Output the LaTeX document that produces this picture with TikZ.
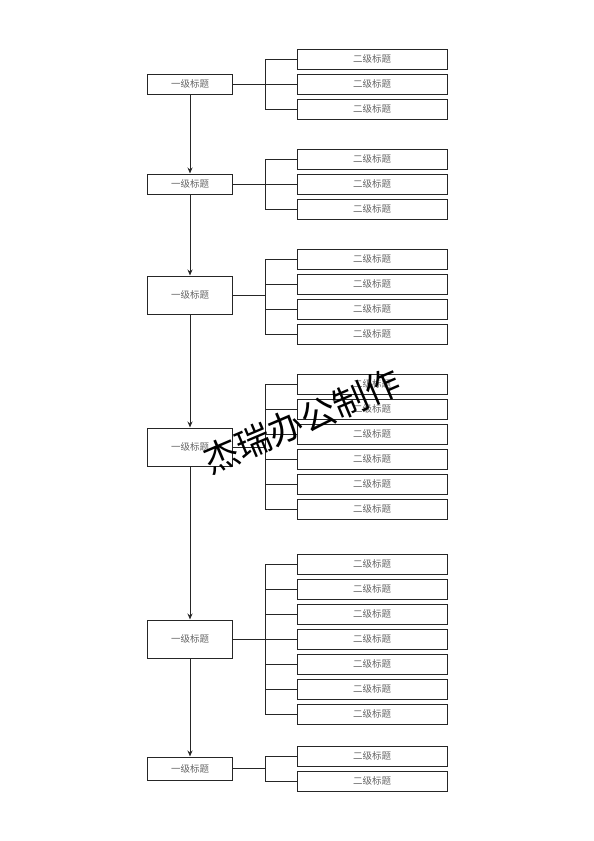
\documentclass[tikz,border=0pt]{standalone}
\usepackage{fontspec}
\newfontfamily\cjk{Noto Sans CJK SC}
\usetikzlibrary{arrows.meta}
\tikzset{
  boxbase/.style={draw=black!85, line width=1pt, inner sep=0pt, text=black!60, font=\cjk\fontsize{9.5}{9.5}\selectfont},
  lone/.style={boxbase, minimum width=85pt},
  ltwo/.style={boxbase, minimum width=150pt, minimum height=20pt},
  conn/.style={draw=black!85, line width=1pt},
  arr/.style={conn, -{Stealth[length=6pt,width=5pt]}},
  wmark/.style={font=\cjk\fontsize{35}{35}\selectfont, text=black, rotate=23}
}
\begin{document}
\begin{tikzpicture}[x=1pt,y=-1pt]
\useasboundingbox (0,0) rectangle (594,841);
% level one
\node[lone, minimum height=20pt] (a1) at (190,84) {一级标题};
\node[lone, minimum height=20pt] (a2) at (190,184) {一级标题};
\node[lone, minimum height=38pt] (a3) at (190,295) {一级标题};
\node[lone, minimum height=38pt] (a4) at (190,447) {一级标题};
\node[lone, minimum height=38pt] (a5) at (190,639) {一级标题};
\node[lone, minimum height=23pt] (a6) at (190,768.5) {一级标题};
\foreach \p/\q in {a1/a2,a2/a3,a3/a4,a4/a5,a5/a6} \draw[arr] (\p.south) -- (\q.north);
% group 1
\coordinate (j1) at (265,84);
\foreach \k/\yy in {1/59,2/84,3/109} {
  \node[ltwo] (b1c\k) at (372,\yy) {二级标题};
  \draw[conn] (j1|-b1c\k.west) -- (b1c\k.west);
}
\draw[conn] (a1.east) -- (j1);
\draw[conn] (j1|-b1c1.west) -- (j1|-b1c3.west);
% group 2
\coordinate (j2) at (265,184);
\foreach \k/\yy in {1/159,2/184,3/209} {
  \node[ltwo] (b2c\k) at (372,\yy) {二级标题};
  \draw[conn] (j2|-b2c\k.west) -- (b2c\k.west);
}
\draw[conn] (a2.east) -- (j2);
\draw[conn] (j2|-b2c1.west) -- (j2|-b2c3.west);
% group 3
\coordinate (j3) at (265,295);
\foreach \k/\yy in {1/259,2/284,3/309,4/334} {
  \node[ltwo] (b3c\k) at (372,\yy) {二级标题};
  \draw[conn] (j3|-b3c\k.west) -- (b3c\k.west);
}
\draw[conn] (a3.east) -- (j3);
\draw[conn] (j3|-b3c1.west) -- (j3|-b3c4.west);
% group 4
\coordinate (j4) at (265,447);
\foreach \k/\yy in {1/384,2/409,3/434,4/459,5/484,6/509} {
  \node[ltwo] (b4c\k) at (372,\yy) {二级标题};
  \draw[conn] (j4|-b4c\k.west) -- (b4c\k.west);
}
\draw[conn] (a4.east) -- (j4);
\draw[conn] (j4|-b4c1.west) -- (j4|-b4c6.west);
% group 5
\coordinate (j5) at (265,639);
\foreach \k/\yy in {1/564,2/589,3/614,4/639,5/664,6/689,7/714} {
  \node[ltwo] (b5c\k) at (372,\yy) {二级标题};
  \draw[conn] (j5|-b5c\k.west) -- (b5c\k.west);
}
\draw[conn] (a5.east) -- (j5);
\draw[conn] (j5|-b5c1.west) -- (j5|-b5c7.west);
% group 6
\coordinate (j6) at (265,768.5);
\foreach \k/\yy in {1/756,2/781} {
  \node[ltwo] (b6c\k) at (372,\yy) {二级标题};
  \draw[conn] (j6|-b6c\k.west) -- (b6c\k.west);
}
\draw[conn] (a6.east) -- (j6);
\draw[conn] (j6|-b6c1.west) -- (j6|-b6c2.west);
% watermark
\node[wmark] (wm) at (302,421) {杰瑞办公制作};
\end{tikzpicture}
\end{document}
